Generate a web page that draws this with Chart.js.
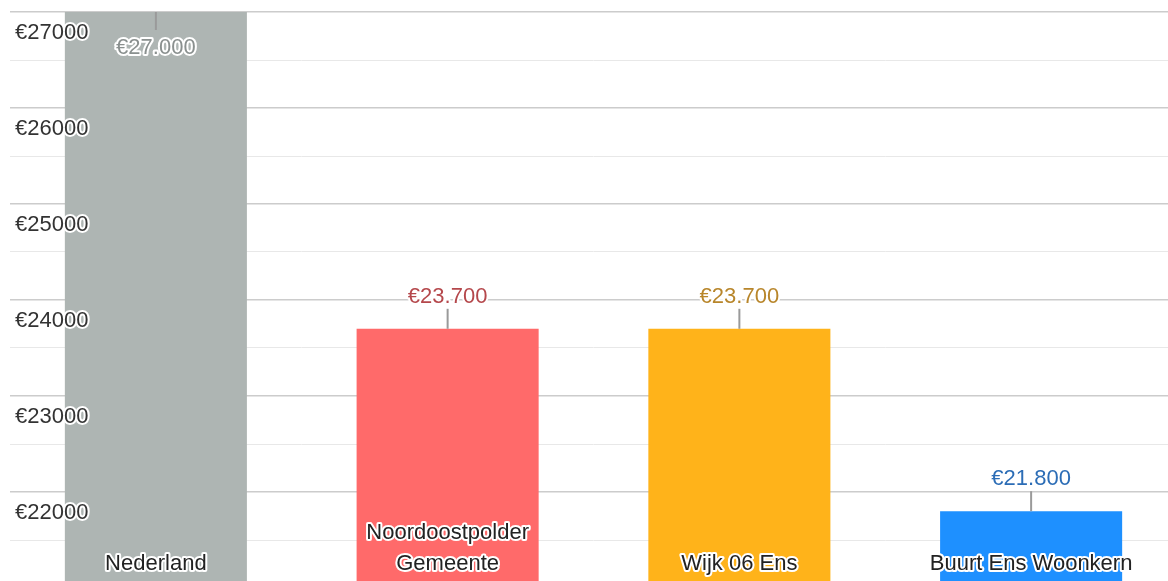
<!DOCTYPE html>
<html>
<head>
<meta charset="utf-8">
<script src="https://cdn.jsdelivr.net/npm/chart.js@4/dist/chart.umd.min.js"></script>
<style>
  html, body { margin: 0; padding: 0; background: #fff; overflow: hidden; }
  #wrap { position: relative; width: 1180px; height: 600px; }
</style>
</head>
<body>
<div id="wrap"><canvas id="incomeChart"></canvas></div>
<script>
const categories = [['Nederland'], ['Noordoostpolder', 'Gemeente'], ['Wijk 06 Ens'], ['Buurt Ens Woonkern']];
const incomeValues = [27000, 23700, 23700, 21800];
const barColors = ['#aeb5b3', '#ff6a6a', '#ffb31a', '#1e90ff'];
const labelColors = ['#8a908f', '#b5484c', '#b8862b', '#2c6db6'];
const yMin = 21000;
const yMax = 27000;
const yStep = 500;

const FONT = 'Arial, "Liberation Sans", sans-serif';

function euro(v) {
    return '€' + v.toLocaleString('nl-NL');
}

function haloText(ctx, txt, x, y, color) {
    ctx.strokeStyle = '#fff';
    ctx.lineWidth = 4;
    ctx.strokeText(txt, x, y);
    ctx.fillStyle = color;
    ctx.fillText(txt, x, y);
}

// value labels with connector line, category names at bar bottom, y tick labels on top
const barLabels = {
    id: 'barLabels',
    afterDatasetsDraw(chart) {
        const { ctx, chartArea } = chart;
        const yScale = chart.scales.y;
        const meta = chart.getDatasetMeta(0);
        ctx.save();
        ctx.font = '22px ' + FONT;
        ctx.textBaseline = 'middle';
        ctx.lineJoin = 'round';

        // y tick labels, drawn over the bars
        ctx.textAlign = 'left';
        yScale.ticks.forEach(t => {
            if (t.value % 1000 !== 0) return;
            haloText(ctx, '€' + t.value, chartArea.left + 5, yScale.getPixelForValue(t.value) + 21, '#333');
        });

        ctx.textAlign = 'center';
        meta.data.forEach((bar, i) => {
            const x = bar.x;
            const top = bar.y;
            const inside = top - 45 < chartArea.top;
            let lineFrom, lineTo, labelY;
            if (inside) {
                lineFrom = top; lineTo = top + 18; labelY = top + 36;
            } else {
                lineFrom = top - 20; lineTo = top; labelY = top - 32;
            }
            ctx.strokeStyle = '#9a9a9a';
            ctx.lineWidth = 2;
            ctx.beginPath();
            ctx.moveTo(x, lineFrom);
            ctx.lineTo(x, lineTo);
            ctx.stroke();

            haloText(ctx, euro(incomeValues[i]), x, labelY, labelColors[i]);

            const lines = categories[i];
            const baseY = chartArea.bottom - 24;
            lines.forEach((line, j) => {
                haloText(ctx, line, x, baseY - (lines.length - 1 - j) * 31, '#222');
            });
        });
        ctx.restore();
    }
};

const ctx = document.getElementById('incomeChart').getContext('2d');
new Chart(ctx, {
    type: 'bar',
    data: {
        labels: categories.map(c => c.join(' ')),
        datasets: [{
            data: incomeValues,
            backgroundColor: barColors,
            borderWidth: 0,
            barPercentage: 0.624,
            categoryPercentage: 1.0
        }]
    },
    options: {
        responsive: true,
        maintainAspectRatio: false,
        animation: false,
        layout: { padding: { top: 12, bottom: 12, left: 10, right: 3 } },
        plugins: {
            legend: { display: false },
            tooltip: { enabled: false }
        },
        scales: {
            x: {
                display: false
            },
            y: {
                min: yMin,
                max: yMax,
                border: { display: false },
                grid: {
                    drawTicks: false,
                    color: c => (c.tick && c.tick.value % 1000 === 0) ? '#cccccc' : '#e8e8e8',
                    lineWidth: c => (c.tick && c.tick.value % 1000 === 0) ? 1.5 : 1
                },
                ticks: {
                    stepSize: yStep,
                    display: false
                }
            }
        }
    },
    plugins: [barLabels]
});
</script>
</body>
</html>
